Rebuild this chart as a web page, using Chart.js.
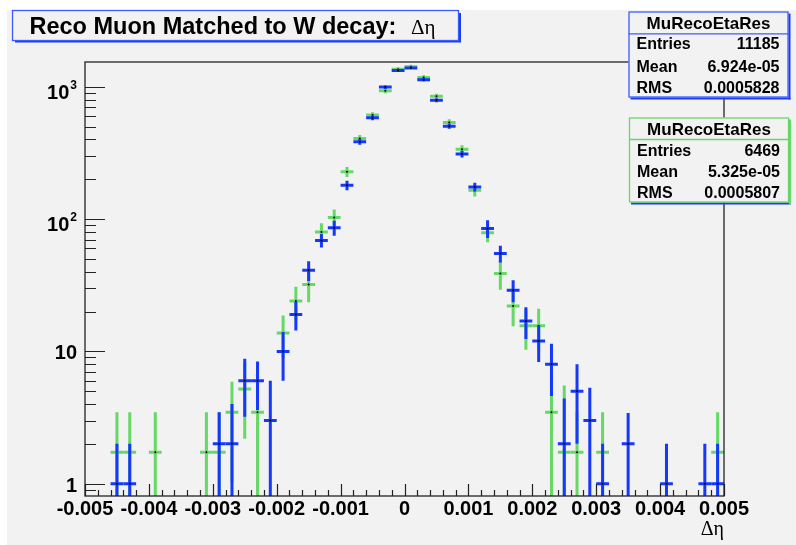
<!DOCTYPE html>
<html>
<head>
<meta charset="utf-8">
<script src="https://cdn.jsdelivr.net/npm/chart.js@4.4.1/dist/chart.umd.min.js"></script>
<style>
  html, body { margin: 0; padding: 0; background: #fff; }
  canvas { display: block; }
</style>
</head>
<body>
<canvas id="c" width="796" height="545"></canvas>
<script>
/* Reco Muon Matched to W decay: Δη — ROOT style overlay of two histograms */
"use strict";

// bin centres (bin width 0.0002, range -0.005 .. 0.005)
const binCenters = [
  -0.0049, -0.0047, -0.0045, -0.0043, -0.0041, -0.0039, -0.0037, -0.0035, -0.0033, -0.0031,
  -0.0029, -0.0027, -0.0025, -0.0023, -0.0021, -0.0019, -0.0017, -0.0015, -0.0013, -0.0011,
  -0.0009, -0.0007, -0.0005, -0.0003, -0.0001,  0.0001,  0.0003,  0.0005,  0.0007,  0.0009,
   0.0011,  0.0013,  0.0015,  0.0017,  0.0019,  0.0021,  0.0023,  0.0025,  0.0027,  0.0029,
   0.0031,  0.0033,  0.0035,  0.0037,  0.0039,  0.0041,  0.0043,  0.0045,  0.0047,  0.0049
];
const binWidth = 0.0002;

// blue histogram (11185 entries)
const blueVals = [
  null, null, 1, 1, null, null, null, null, null, null,
  2, 2, 6, 6, 3, 10, 19, 41, 69, 86,
  180, 384, 583, 995, 1330, 1390, 1130, 793, 504, 310,
  175, 85, 55, 29, 17, 12, 8, 2, 5, 3,
  1, null, 2, null, null, 1, null, null, 1, 1
];
const blueErr = [
  0, 0, 1, 1, 0, 0, 0, 0, 0, 0,
  1.46, 2.0, 2.8, 2.4, 3.0, 4.0, 4.6, 7, 8, 11,
  15, 20, 24, 32, 36, 37, 34, 28, 22, 18,
  13, 13, 8, 5.5, 4.6, 3.7, 3.4, 2.4, 3.0, 2.3,
  1, 0, 1.42, 0, 0, 1, 0, 0, 1, 1
];

// green histogram (6469 entries, scaled to the blue one)
const greenVals = [
  null, null, 1.73, 1.73, null, 1.73, null, null, null, 1.73,
  1.73, 3.46, 5.19, 3.46, null, 13.8, 24, 32, 80, 103,
  228, 407, 611, 933, 1360, 1420, 1178, 850, 538, 338,
  165, 78.7, 38.8, 22, 15.6, 15.6, 3.46, 1.73, 1.73, null,
  1.73, null, null, null, null, null, null, null, null, 1.73
];
const greenErr = [
  0, 0, 1.73, 1.73, 0, 1.73, 0, 0, 0, 1.73,
  1.73, 2.44, 3.0, 3.46, 0, 4.9, 6.8, 8.5, 13, 15,
  20, 26, 32, 40, 48, 49, 45, 38, 30, 24,
  17, 12, 9.5, 6.5, 5.3, 5.4, 3.46, 3.8, 1.73, 0,
  1.73, 0, 0, 0, 0, 0, 0, 0, 0, 1.73
];

// axes
const xMajorTicks = [-0.005, -0.004, -0.003, -0.002, -0.001, 0, 0.001, 0.002, 0.003, 0.004, 0.005];
const xTickLabels = ["-0.005", "-0.004", "-0.003", "-0.002", "-0.001", "0", "0.001", "0.002", "0.003", "0.004", "0.005"];
const yMajorTicks = [1, 10, 100, 1000];
const yTickBase = ["1", "10", "10", "10"];
const yTickExp = ["", "", "2", "3"];

const statsBlue = [["Entries", "11185"], ["Mean", "6.924e-05"], ["RMS", "0.0005828"]];
const statsGreen = [["Entries", "6469"], ["Mean", "5.325e-05"], ["RMS", "0.0005807"]];

const C = {
  blue: "#1538fb",
  green: "#66d866",
  bg: "#f2f2f2",
  box: "#3a5cff",
  shadow: "#1c3cf0",
  ink: "#000"
};
const SANS = "'Liberation Sans', Arial, Helvetica, sans-serif";
const SERIF = "'Liberation Serif', 'DejaVu Serif', serif";

function toPoints(vals) {
  const pts = [];
  vals.forEach((v, i) => { if (v != null) pts.push({ x: binCenters[i], y: v }); });
  return pts;
}

function drawErrors(chart, vals, errs, color) {
  const { ctx, chartArea: a, scales: { x, y } } = chart;
  ctx.save();
  ctx.beginPath();
  ctx.rect(a.left, a.top, a.right - a.left, a.bottom - a.top);
  ctx.clip();
  ctx.strokeStyle = color;
  ctx.lineWidth = 3;
  ctx.lineCap = "butt";
  vals.forEach((v, i) => {
    if (v == null) return;
    const c = binCenters[i];
    const cx = x.getPixelForValue(c);
    const cy = y.getPixelForValue(v);
    const lo = v - errs[i];
    const yLo = lo > y.min ? y.getPixelForValue(lo) : a.bottom;
    const yHi = y.getPixelForValue(v + errs[i]);
    ctx.beginPath();
    ctx.moveTo(x.getPixelForValue(c - binWidth / 2), cy);
    ctx.lineTo(x.getPixelForValue(c + binWidth / 2), cy);
    ctx.moveTo(cx, yLo);
    ctx.lineTo(cx, yHi);
    ctx.stroke();
  });
  ctx.restore();
}

function statsBox(ctx, x0, y0, x1, y1, border, shadowRight, rows, baselines) {
  ctx.fillStyle = C.bg;
  ctx.fillRect(x0, y0, x1 - x0, y1 - y0);
  // shadow
  ctx.fillStyle = C.shadow;
  ctx.fillRect(x0 + 2, y1, x1 - x0, 2);
  ctx.fillStyle = shadowRight;
  ctx.fillRect(x1, y0 + 2, 2, y1 - y0);
  ctx.strokeStyle = border;
  ctx.lineWidth = 1.3;
  ctx.strokeRect(x0 + 0.5, y0 + 0.5, x1 - x0 - 1, y1 - y0 - 1);
  ctx.beginPath();
  ctx.moveTo(x0, baselines[0] + 4.5);
  ctx.lineTo(x1, baselines[0] + 4.5);
  ctx.stroke();
  ctx.fillStyle = C.ink;
  ctx.font = "bold 17px " + SANS;
  ctx.textAlign = "center";
  ctx.fillText("MuRecoEtaRes", (x0 + x1) / 2, baselines[0]);
  ctx.font = "bold 16px " + SANS;
  rows.forEach((r, i) => {
    ctx.textAlign = "left";
    ctx.fillText(r[0], x0 + 8, baselines[i + 1]);
    ctx.textAlign = "right";
    ctx.fillText(r[1], x1 - 9, baselines[i + 1]);
  });
}

const rootLook = {
  id: "rootLook",
  beforeDraw(chart) {
    const ctx = chart.ctx;
    ctx.save();
    ctx.fillStyle = "#fff";
    ctx.fillRect(0, 0, chart.width, chart.height);
    ctx.fillStyle = C.bg;
    ctx.fillRect(7, 10, chart.width - 7, chart.height - 10);
    ctx.restore();
  },
  beforeDatasetDraw(chart, args) {
    if (args.index === 1) drawErrors(chart, greenVals, greenErr, C.green);
    else drawErrors(chart, blueVals, blueErr, C.blue);
  },
  afterDraw(chart) {
    const { ctx, chartArea: a, scales: { x, y } } = chart;
    ctx.save();

    // frame
    ctx.strokeStyle = "#222";
    ctx.lineWidth = 1.3;
    ctx.strokeRect(a.left, a.top, a.right - a.left, a.bottom - a.top);

    // x ticks: 10 primary, 5 secondary
    ctx.lineWidth = 1.2;
    ctx.beginPath();
    for (let i = 0; i <= 50; i++) {
      const v = x.min + i * (x.max - x.min) / 50;
      const px = Math.round(x.getPixelForValue(v)) + 0.5;
      const len = i % 5 === 0 ? 12 : 6;
      ctx.moveTo(px, a.bottom);
      ctx.lineTo(px, a.bottom - len);
    }
    // y ticks, log
    const minors = [];
    [0.1, 1, 10, 100].forEach(d => { for (let m = 2; m <= 9; m++) minors.push(d * m); });
    minors.forEach(v => {
      if (v < y.min || v > y.max) return;
      const py = Math.round(y.getPixelForValue(v)) + 0.5;
      ctx.moveTo(a.left, py);
      ctx.lineTo(a.left + 11, py);
    });
    yMajorTicks.forEach(v => {
      const py = Math.round(y.getPixelForValue(v)) + 0.5;
      ctx.moveTo(a.left, py);
      ctx.lineTo(a.left + 20, py);
    });
    ctx.stroke();

    // tick labels
    ctx.fillStyle = C.ink;
    ctx.font = "bold 20px " + SANS;
    ctx.textAlign = "center";
    ctx.textBaseline = "alphabetic";
    xMajorTicks.forEach((v, i) => {
      ctx.fillText(xTickLabels[i], x.getPixelForValue(v), 515);
    });
    yMajorTicks.forEach((v, i) => {
      const py = y.getPixelForValue(v);
      const right = 77;
      ctx.textAlign = "right";
      if (yTickExp[i]) {
        ctx.font = "bold 12px " + SANS;
        const w = ctx.measureText(yTickExp[i]).width;
        ctx.fillText(yTickExp[i], right, py + 2);
        ctx.font = "bold 20px " + SANS;
        ctx.fillText(yTickBase[i], right - w - 1, py + 12);
      } else {
        ctx.font = "bold 20px " + SANS;
        ctx.fillText(yTickBase[i], right, py + 8);
      }
    });

    // axis title
    ctx.font = "20px " + SERIF;
    ctx.textAlign = "right";
    ctx.fillText("\u0394\u03b7", a.right, 535);

    // title box
    ctx.fillStyle = C.bg;
    ctx.fillRect(12, 10, 447, 31);
    ctx.fillStyle = C.shadow;
    ctx.fillRect(15, 40, 446, 2.5);
    ctx.fillRect(458.5, 13, 2.5, 29);
    ctx.strokeStyle = C.box;
    ctx.lineWidth = 1.3;
    ctx.strokeRect(12.5, 10.5, 446, 30);
    ctx.fillStyle = C.ink;
    ctx.font = "bold 23.5px " + SANS;
    ctx.textAlign = "left";
    ctx.fillText("Reco Muon Matched to W decay:", 29.5, 33.5);
    ctx.font = "21px " + SERIF;
    ctx.fillText("\u0394\u03b7", 411, 33.5);

    // stats boxes
    statsBox(ctx, 628.5, 11.5, 788.5, 97.5, C.box, C.shadow, statsBlue, [29.3, 49.3, 71.5, 92.7]);
    statsBox(ctx, 629, 117.5, 789, 202.5, C.green, C.green, statsGreen, [135, 156, 177.3, 198.3]);

    ctx.restore();
  }
};

function boot() {
  Chart.defaults.font.family = SANS;
  new Chart(document.getElementById("c"), {
    type: "scatter",
    data: {
      datasets: [
        {
          label: "blue",
          data: toPoints(blueVals),
          pointRadius: 1,
          pointBorderWidth: 0,
          pointBackgroundColor: C.ink,
          showLine: false
        },
        {
          label: "green",
          data: toPoints(greenVals),
          pointRadius: 1,
          pointBorderWidth: 0,
          pointBackgroundColor: C.ink,
          showLine: false
        }
      ]
    },
    options: {
      responsive: false,
      animation: false,
      devicePixelRatio: 1,
      layout: { padding: { left: 85, top: 62, right: 72, bottom: 49 } },
      plugins: { legend: { display: false }, tooltip: { enabled: false } },
      scales: {
        x: { type: "linear", min: -0.005, max: 0.005, display: false },
        y: { type: "logarithmic", min: 0.807, max: 1540, display: false }
      }
    },
    plugins: [rootLook]
  });
}

document.readyState === "loading"
  ? document.addEventListener("DOMContentLoaded", boot)
  : boot();
</script>
</body>
</html>
